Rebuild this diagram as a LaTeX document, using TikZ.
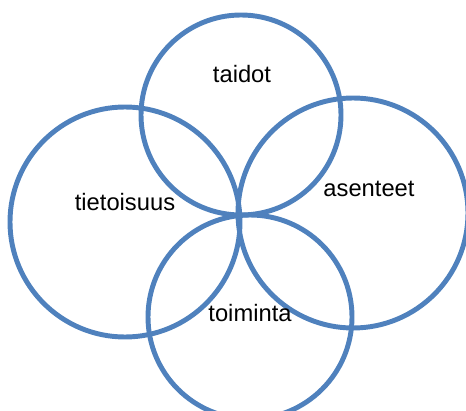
\documentclass[tikz,border=0pt]{standalone}
\usepackage{fontspec}
\setmainfont{Liberation Sans}
\usepackage{xcolor}
\definecolor{Sini}{HTML}{4F81BD}

\begin{document}
\begin{tikzpicture}[x=0.75pt,y=0.75pt,
    piiri/.style={circle,draw=Sini,line width=3.7pt,inner sep=0pt},
    teksti/.style={font=\fontsize{17.8}{20}\selectfont,inner sep=0pt}]
    \useasboundingbox (0,0) rectangle (466,410);
    \clip (0,0) rectangle (466,410);
    \node[piiri,minimum size=150pt] (taidotPiiri) at (241,295) {};
    \node[piiri,minimum size=172.5pt] (tietoPiiri) at (125,188) {};
    \node[piiri,minimum size=172.5pt] (asennePiiri) at (353,197) {};
    \node[piiri,minimum size=153pt] (toimintaPiiri) at (250,93) {};
    \node[teksti] (taidot) at (242,336) {taidot};
    \node[teksti] (tietoisuus) at (125,208) {tietoisuus};
    \node[teksti] (asenteet) at (369,221) {asenteet};
    \node[teksti] (toiminta) at (250,97) {toiminta};
  \end{tikzpicture}
\end{document}
